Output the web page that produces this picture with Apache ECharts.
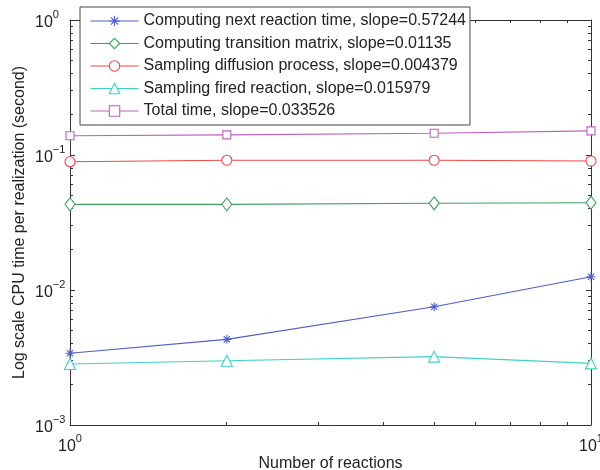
<!DOCTYPE html>
<html>
<head>
<meta charset="utf-8">
<script src="https://cdn.jsdelivr.net/npm/echarts@6/dist/echarts.min.js"></script>
<style>html,body{margin:0;padding:0;background:#fff}#c{width:600px;height:470px}</style>
</head>
<body>
<div id="c"></div>
<script>
var reactions = [1, 2, 5, 10];
var nextReaction = [0.00340, 0.00431, 0.00752, 0.01255];
var transitionMatrix = [0.0431, 0.0431, 0.0439, 0.0443];
var diffusion = [0.0892, 0.0914, 0.0914, 0.0903];
var firedReaction = [0.00283, 0.00299, 0.00321, 0.00286];
var totalTime = [0.139, 0.141, 0.145, 0.151];
var seriesNames = [
  'Computing next reaction time, slope=0.57244',
  'Computing transition matrix, slope=0.01135',
  'Sampling diffusion process, slope=0.004379',
  'Sampling fired reaction, slope=0.015979',
  'Total time, slope=0.033526'
];
var xMin = 1, xMax = 10, yMin = 0.001, yMax = 1;
var xMinorTicks = [2, 3, 4, 5, 6, 7, 8, 9];
var yMinorTicks = [0.002,0.003,0.004,0.005,0.006,0.007,0.008,0.009,
                   0.02,0.03,0.04,0.05,0.06,0.07,0.08,0.09,
                   0.2,0.3,0.4,0.5,0.6,0.7,0.8,0.9];

var FONT = "'Liberation Sans', Arial, sans-serif";
var AX = '#333';
function pair(ys) { return reactions.map(function (x, i) { return [x, ys[i]]; }); }
function powLabel(v) {
  var e = Math.round(Math.log(v) / Math.LN10);
  return '{b|10}{s|' + (e < 0 ? '\u2212' + (-e) : e) + '}';
}
var richSup = {
  b: { fontSize: 16, fontFamily: FONT, color: '#222', verticalAlign: 'bottom', lineHeight: 22 },
  s: { fontSize: 11, fontFamily: FONT, color: '#222', verticalAlign: 'top', lineHeight: 22 }
};
var asterisk = 'path://M5 0L5 10M0 5L10 5M1.5 1.5L8.5 8.5M8.5 1.5L1.5 8.5';
function crisp(v) { return Math.round(v - 0.5) + 0.5; }

function lineSeries(name, ys, color, symbol, size, fill) {
  return {
    name: name, type: 'line', data: pair(ys),
    symbol: symbol, symbolSize: size, showAllSymbol: true,
    lineStyle: { color: color, width: 1.1 },
    itemStyle: { color: fill || '#fff', borderColor: color, borderWidth: 1.1 },
    emphasis: { disabled: true }, z: 3
  };
}

var chart = echarts.init(document.getElementById('c'), null, { renderer: 'canvas' });
var option = {
  animation: false,
  backgroundColor: '#fff',
  textStyle: { fontFamily: FONT },
  grid: { left: 70, right: 9, top: 20, bottom: 45, containLabel: false, outerBoundsMode: 'none' },
  legend: {
    data: seriesNames,
    orient: 'vertical', left: 80, top: 7,
    padding: [6, 4, 6, 10],
    itemWidth: 48, itemHeight: 13, itemGap: 6.5,
    backgroundColor: '#fff', borderColor: '#444', borderWidth: 1,
    lineStyle: { width: 1.1 },
    itemStyle: { borderWidth: 1.1 },
    textStyle: { fontSize: 16, fontFamily: FONT, color: '#222', lineHeight: 16 },
    selectedMode: false
  },
  xAxis: [{
    type: 'log', logBase: 10, min: xMin, max: xMax, position: 'bottom',
    name: 'Number of reactions', nameLocation: 'middle', nameGap: 31, nameMoveOverlap: false,
    nameTextStyle: { fontSize: 16, fontFamily: FONT, color: '#222' },
    axisLine: { show: true, lineStyle: { color: AX, width: 1 } },
    axisTick: { show: true, inside: true, length: 5, lineStyle: { color: AX } },
    axisLabel: { margin: 8, formatter: powLabel, rich: richSup },
    splitLine: { show: false }
  }, {
    type: 'log', logBase: 10, min: xMin, max: xMax, position: 'top',
    axisLine: { show: true, lineStyle: { color: AX, width: 1 } },
    axisTick: { show: true, inside: true, length: 5, lineStyle: { color: AX } },
    axisLabel: { show: false }, splitLine: { show: false }
  }],
  yAxis: [{
    type: 'log', logBase: 10, min: yMin, max: yMax, position: 'left',
    name: 'Log scale CPU time per realization (second)', nameLocation: 'middle', nameGap: 42, nameMoveOverlap: false,
    nameTextStyle: { fontSize: 16, fontFamily: FONT, color: '#222' },
    axisLine: { show: true, lineStyle: { color: AX, width: 1 } },
    axisTick: { show: true, inside: true, length: 5, lineStyle: { color: AX } },
    axisLabel: { margin: 35, align: 'left', formatter: powLabel, rich: richSup },
    splitLine: { show: false }
  }, {
    type: 'log', logBase: 10, min: yMin, max: yMax, position: 'right',
    axisLine: { show: true, lineStyle: { color: AX, width: 1 } },
    axisTick: { show: true, inside: true, length: 5, lineStyle: { color: AX } },
    axisLabel: { show: false }, splitLine: { show: false }
  }],
  series: [
    lineSeries(seriesNames[0], nextReaction, '#4f5fc7', asterisk, 9, 'rgba(0,0,0,0)'),
    lineSeries(seriesNames[1], transitionMatrix, '#3f9f60', 'diamond', [10, 13]),
    lineSeries(seriesNames[2], diffusion, '#f04848', 'circle', 10),
    lineSeries(seriesNames[3], firedReaction, '#40d0c8', 'triangle', 11),
    lineSeries(seriesNames[4], totalTime, '#c060c0', 'rect', 8),
    {
      type: 'custom', silent: true, z: 2, clip: false,
      data: xMinorTicks.map(function (v) { return [v, yMin]; }),
      renderItem: function (params, api) {
        var v = api.value(0);
        var b = api.coord([v, yMin]);
        var t = api.coord([v, yMax]);
        var x = crisp(b[0]);
        var st = { stroke: AX, lineWidth: 1 };
        return { type: 'group', children: [
          { type: 'line', shape: { x1: x, y1: b[1], x2: x, y2: b[1] - 3 }, style: st },
          { type: 'line', shape: { x1: x, y1: t[1], x2: x, y2: t[1] + 3 }, style: st }
        ] };
      }
    },
    {
      type: 'custom', silent: true, z: 2, clip: false,
      data: yMinorTicks.map(function (v) { return [xMin, v]; }),
      renderItem: function (params, api) {
        var v = api.value(1);
        var l = api.coord([xMin, v]);
        var r = api.coord([xMax, v]);
        var y = crisp(l[1]);
        var st = { stroke: AX, lineWidth: 1 };
        return { type: 'group', children: [
          { type: 'line', shape: { x1: l[0], y1: y, x2: l[0] + 3, y2: y }, style: st },
          { type: 'line', shape: { x1: r[0], y1: y, x2: r[0] - 3, y2: y }, style: st }
        ] };
      }
    }
  ]
};
chart.setOption(option);
</script>
</body>
</html>
